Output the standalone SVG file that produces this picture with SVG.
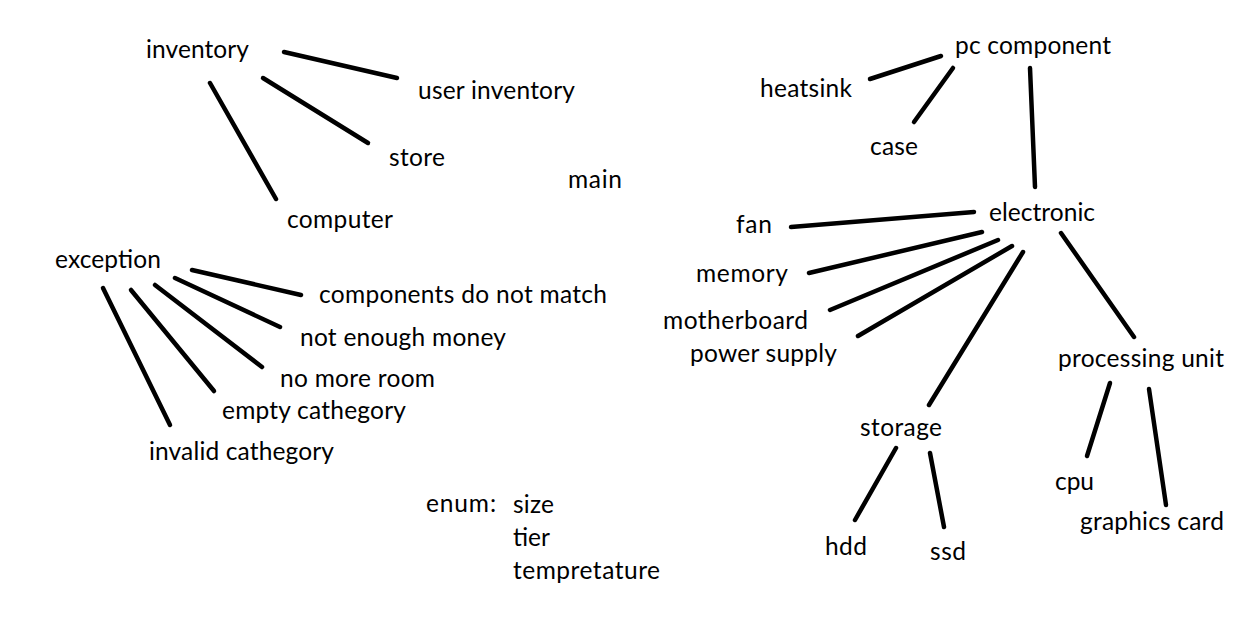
<svg xmlns="http://www.w3.org/2000/svg" width="1251" height="641" viewBox="0 0 1251 641">
<style>
text{font-family:Lato,"Liberation Sans",sans-serif;font-size:24.5px;fill:#000}
.c line{stroke:#000;stroke-width:4.5;stroke-linecap:round}
</style>
<rect width="1251" height="641" fill="#fff"/>
<g class="c" id="connectors">
<line x1="284" y1="52" x2="397" y2="78"/>
<line x1="263" y1="78" x2="368" y2="143"/>
<line x1="210" y1="83" x2="276" y2="199"/>
<line x1="192" y1="270" x2="301" y2="295"/>
<line x1="175" y1="278" x2="280" y2="327"/>
<line x1="155" y1="285" x2="262" y2="367"/>
<line x1="131" y1="290" x2="214" y2="391"/>
<line x1="103" y1="288" x2="170" y2="425"/>
<line x1="941" y1="56" x2="870" y2="79"/>
<line x1="953" y1="68" x2="914" y2="122"/>
<line x1="1030" y1="68" x2="1035" y2="187"/>
<line x1="974" y1="212" x2="791" y2="227"/>
<line x1="982" y1="232" x2="809" y2="273"/>
<line x1="998" y1="240" x2="830" y2="310"/>
<line x1="1012" y1="246" x2="858" y2="336"/>
<line x1="1023" y1="252" x2="929" y2="405"/>
<line x1="1061" y1="233" x2="1134" y2="337"/>
<line x1="896" y1="448" x2="855" y2="520"/>
<line x1="930" y1="453" x2="944" y2="527"/>
<line x1="1110" y1="383" x2="1087" y2="456"/>
<line x1="1149" y1="389" x2="1166" y2="505"/>
</g>
<g id="inventory"><text x="146" y="58" textLength="103">inventory</text></g>
<g id="user-inventory"><text x="418" y="99" textLength="157">user inventory</text></g>
<g id="store"><text x="389" y="166" textLength="56">store</text></g>
<g id="main"><text x="568" y="188" textLength="54">main</text></g>
<g id="computer"><text x="287" y="228" textLength="106">computer</text></g>
<g id="exception"><text x="55" y="268" textLength="106">exception</text></g>
<g id="components-do-not-match"><text x="319" y="303" textLength="288">components do not match</text></g>
<g id="not-enough-money"><text x="300" y="346" textLength="206">not enough money</text></g>
<g id="no-more-room"><text x="280" y="387" textLength="155">no more room</text></g>
<g id="empty-cathegory"><text x="222" y="419" textLength="184">empty cathegory</text></g>
<g id="invalid-cathegory"><text x="149" y="460" textLength="185">invalid cathegory</text></g>
<g id="enum"><text x="426" y="512" textLength="70">enum:</text>
<text x="513" y="513" textLength="41">size</text>
<text x="513" y="546" textLength="37">tier</text>
<text x="513" y="579" textLength="147">tempretature</text></g>
<g id="pc-component"><text x="955" y="54" textLength="156">pc component</text></g>
<g id="heatsink"><text x="760" y="97" textLength="92">heatsink</text></g>
<g id="case"><text x="870" y="155" textLength="48">case</text></g>
<g id="electronic"><text x="989" y="221" textLength="106">electronic</text></g>
<g id="fan"><text x="736" y="233" textLength="36">fan</text></g>
<g id="memory"><text x="696" y="282" textLength="92">memory</text></g>
<g id="motherboard"><text x="663" y="329" textLength="145">motherboard</text></g>
<g id="power-supply"><text x="690" y="362" textLength="147">power supply</text></g>
<g id="processing-unit"><text x="1058" y="367" textLength="166">processing unit</text></g>
<g id="storage"><text x="860" y="436" textLength="82">storage</text></g>
<g id="hdd"><text x="825" y="555" textLength="42">hdd</text></g>
<g id="ssd"><text x="930" y="560" textLength="36">ssd</text></g>
<g id="cpu"><text x="1055" y="490" textLength="39">cpu</text></g>
<g id="graphics-card"><text x="1080" y="530" textLength="144">graphics card</text></g>
</svg>
